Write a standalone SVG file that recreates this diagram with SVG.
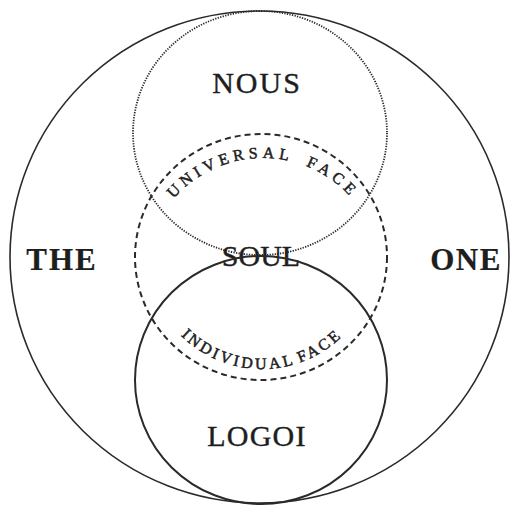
<svg xmlns="http://www.w3.org/2000/svg" width="512" height="509" viewBox="0 0 512 509">
<style>
.ln{fill:none;stroke:#2a2a2a}
.t{font-family:"Liberation Serif","Times New Roman",serif;fill:#1e1e1e;text-anchor:middle;stroke:#1e1e1e;stroke-width:0.4}
.big{font-size:30px}
.bold{font-weight:bold;font-size:31px;stroke-width:0.2}
.arc{font-size:16px;letter-spacing:4.5px;stroke-width:0.5}
</style>
<defs>
<path id="arcTop" d="M 145 276 A 118 118 0 0 1 381 276"/>
<path id="arcBot" d="M 147 254 A 115 115 0 0 0 377 254"/>
</defs>
<rect width="512" height="509" fill="#ffffff"/>
<g id="connectors"></g>
<g id="the-one">
<ellipse class="ln" cx="259.5" cy="257" rx="249.5" ry="246" stroke-width="1.6"/>
<text class="t bold" x="62" y="270" letter-spacing="2">THE</text>
<text class="t bold" x="466" y="270" letter-spacing="1.5">ONE</text>
</g>
<g id="nous">
<ellipse class="ln" cx="260" cy="133" rx="127" ry="122" stroke-width="1.8" stroke-dasharray="1.3 1.3"/>
<text class="t big" x="257" y="93" letter-spacing="2">NOUS</text>
</g>
<g id="soul">
<ellipse class="ln" cx="261" cy="257" rx="126" ry="123" stroke-width="2" stroke-dasharray="6 4"/>
<text class="t big" x="261" y="266" font-size="29">SOUL</text>
<text class="t arc"><textPath href="#arcTop" startOffset="50%" word-spacing="6">UNIVERSAL FACE</textPath></text>
<text class="t arc" style="letter-spacing:3px"><textPath href="#arcBot" startOffset="50%" word-spacing="-3">INDIVIDUAL FACE</textPath></text>
</g>
<g id="logoi">
<ellipse class="ln" cx="261" cy="380" rx="126" ry="124" stroke-width="2"/>
<text class="t big" x="257" y="446" letter-spacing="1.2">LOGOI</text>
</g>
</svg>
